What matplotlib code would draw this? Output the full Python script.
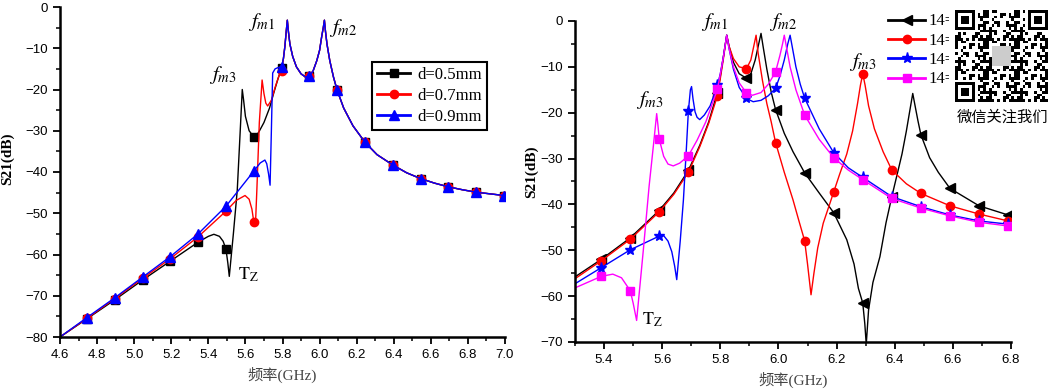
import numpy as np
import matplotlib
matplotlib.use('Agg')
import matplotlib.pyplot as plt
from matplotlib.ticker import MultipleLocator
from matplotlib.patches import Rectangle

plt.rcParams['font.family'] = ['Liberation Sans', 'Noto Sans CJK SC', 'DejaVu Sans']
plt.rcParams['mathtext.fontset'] = 'stix'

# ---------------- left panel: d = 0.5 / 0.7 / 0.9 mm ----------------
marks_L = [4.745, 4.895, 5.045, 5.195, 5.345, 5.495, 5.645, 5.795,
           5.945, 6.095, 6.245, 6.395, 6.545, 6.695, 6.845, 6.995]

f_d05 = [4.6, 4.745, 4.895, 5.045, 5.195, 5.345, 5.40, 5.43, 5.46, 5.48, 5.495,
         5.505, 5.513, 5.535, 5.556, 5.572, 5.583, 5.59, 5.60, 5.62, 5.645, 5.67,
         5.70, 5.73, 5.755, 5.775, 5.795]
s_d05 = [-80, -75.6, -71.0, -66.2, -61.6, -57.0, -55.6, -55.1, -55.6, -56.8, -58.7,
         -62.0, -65.3, -55.0, -44.4, -30.0, -20.0, -22.5, -26.5, -30.0, -31.5, -30.5,
         -28.0, -24.5, -20.5, -17.5, -14.8]

f_d07 = [4.6, 4.745, 4.895, 5.045, 5.195, 5.345, 5.495, 5.55, 5.598, 5.62, 5.635,
         5.645, 5.655, 5.662, 5.675, 5.69, 5.70, 5.71, 5.72, 5.74, 5.76, 5.78, 5.795]
s_d07 = [-80, -75.5, -70.7, -65.8, -61.0, -55.7, -49.5, -46.9, -45.7, -46.6, -49.0,
         -52.0, -51.8, -44.0, -28.0, -17.7, -21.0, -23.3, -24.0, -22.6, -19.5, -16.8, -15.5]

f_d09 = [4.6, 4.745, 4.895, 5.045, 5.195, 5.345, 5.495, 5.645, 5.68, 5.705, 5.715,
         5.725, 5.733, 5.74, 5.747, 5.76, 5.775, 5.795]
s_d09 = [-80, -75.3, -70.5, -65.5, -60.5, -55.0, -48.3, -39.8, -37.8, -37.1, -38.0,
         -40.5, -43.2, -30.0, -16.0, -15.0, -14.7, -14.5]

# common part above 5.8 GHz (the three curves overlap)
f_tail = [5.805, 5.813, 5.82, 5.826, 5.832, 5.84, 5.855, 5.875, 5.90, 5.925, 5.945,
          5.965, 5.985, 6.0, 6.012, 6.02, 6.026, 6.032, 6.04, 6.055, 6.075, 6.095,
          6.13, 6.18, 6.245, 6.31, 6.395, 6.47, 6.545, 6.62, 6.695, 6.77, 6.845,
          6.92, 6.995]
s_tail = [-12.5, -9.5, -6.0, -3.2, -6.0, -9.0, -12.0, -14.5, -16.2, -17.0, -16.8,
          -15.5, -13.0, -10.5, -7.0, -5.0, -3.2, -6.0, -9.0, -13.0, -17.0, -20.2,
          -24.5, -28.8, -32.8, -35.8, -38.3, -40.2, -41.6, -42.7, -43.6, -44.3, -44.9,
          -45.3, -45.7]

labels_L = ['d=0.5mm', 'd=0.7mm', 'd=0.9mm']

# ---------------- right panel: four cases ----------------
marks_R = [5.39, 5.49, 5.59, 5.69, 5.79, 5.89, 5.99, 6.09, 6.19, 6.29,
           6.39, 6.49, 6.59, 6.69, 6.79]

f_k = [5.30, 5.39, 5.49, 5.59, 5.64, 5.69, 5.73, 5.76, 5.79, 5.80, 5.81, 5.822, 5.83,
       5.845, 5.865, 5.89, 5.905, 5.92, 5.932, 5.94, 5.947, 5.96, 5.975, 5.99, 6.02,
       6.05, 6.09, 6.14, 6.19, 6.235, 6.26, 6.275, 6.29, 6.297, 6.302, 6.31, 6.325,
       6.349, 6.37, 6.39, 6.41, 6.425, 6.44, 6.452, 6.462, 6.47, 6.48, 6.49, 6.52,
       6.55, 6.59, 6.69, 6.79, 6.80]
s_k = [-55.8, -52.0, -47.3, -41.3, -37.5, -32.6, -27.0, -22.0, -15.6, -12.0, -8.0, -3.1,
       -5.5, -9.0, -11.5, -12.5, -11.5, -8.5, -5.0, -2.7, -5.5, -10.5, -15.5, -19.3,
       -24.5, -28.5, -33.1, -37.5, -41.8, -47.7, -53.0, -58.3, -61.5, -66.0, -70.5,
       -63.0, -57.0, -51.4, -44.0, -38.3, -33.0, -29.0, -24.0, -19.5, -15.8, -18.5,
       -21.8, -24.8, -29.8, -33.0, -36.5, -40.3, -42.3, -42.5]

f_r = [5.30, 5.39, 5.49, 5.59, 5.64, 5.69, 5.73, 5.76, 5.79, 5.80, 5.81, 5.822, 5.83,
       5.845, 5.865, 5.89, 5.905, 5.915, 5.923, 5.93, 5.945, 5.96, 5.975, 5.99, 6.02,
       6.05, 6.07, 6.09, 6.10, 6.112, 6.122, 6.135, 6.154, 6.19, 6.21, 6.235, 6.255,
       6.272, 6.282, 6.29, 6.298, 6.31, 6.33, 6.36, 6.39, 6.44, 6.49, 6.59, 6.69,
       6.79, 6.80]
s_r = [-56.2, -52.3, -47.6, -41.6, -37.8, -33.0, -27.3, -22.3, -16.3, -12.5, -8.5,
       -3.1, -5.5, -8.2, -10.0, -10.4, -8.5, -5.5, -3.1, -7.0, -13.0, -18.0, -22.0,
       -26.5, -33.0, -39.0, -43.5, -47.9, -53.0, -59.7, -55.0, -49.5, -44.1, -37.3,
       -33.5, -29.0, -24.0, -18.0, -14.0, -11.5, -14.0, -18.5, -23.5, -28.5, -32.5,
       -35.5, -37.6, -40.3, -42.1, -43.6, -43.8]

f_b = [5.30, 5.39, 5.49, 5.59, 5.605, 5.62, 5.633, 5.643, 5.65, 5.662, 5.673, 5.683,
       5.69, 5.697, 5.701, 5.706, 5.713, 5.72, 5.729, 5.745, 5.765, 5.79, 5.80, 5.81,
       5.822, 5.83, 5.845, 5.865, 5.89, 5.913, 5.94, 5.965, 5.99, 6.005, 6.02, 6.032,
       6.04, 6.047, 6.06, 6.075, 6.09, 6.14, 6.19, 6.24, 6.29, 6.39, 6.49, 6.59, 6.69,
       6.79, 6.80]
s_b = [-57.3, -53.8, -49.9, -46.9, -46.8, -48.0, -50.3, -53.5, -56.4, -48.0, -39.0,
       -28.0, -19.7, -15.0, -14.3, -17.0, -19.8, -21.0, -21.5, -20.5, -18.5, -14.0,
       -11.5, -8.0, -3.1, -6.0, -10.5, -14.5, -16.9, -17.6, -17.3, -16.3, -14.7, -12.0,
       -8.5, -5.0, -3.1, -5.5, -10.0, -13.8, -16.8, -23.5, -28.7, -32.0, -34.1, -38.3,
       -40.5, -42.3, -43.6, -44.3, -44.4]

f_m = [5.30, 5.39, 5.43, 5.46, 5.49, 5.50, 5.512, 5.535, 5.555, 5.57, 5.581, 5.585,
       5.59, 5.605, 5.62, 5.638, 5.66, 5.69, 5.72, 5.75, 5.79, 5.80, 5.81, 5.822, 5.83,
       5.845, 5.865, 5.89, 5.91, 5.94, 5.965, 5.99, 6.005, 6.014, 6.02, 6.027, 6.04,
       6.06, 6.09, 6.14, 6.19, 6.24, 6.29, 6.39, 6.49, 6.59, 6.69, 6.79, 6.80]
s_m = [-58.2, -55.7, -55.2, -56.0, -58.8, -61.5, -65.3, -50.0, -36.0, -27.0, -20.2,
       -22.5, -25.8, -29.5, -31.2, -31.6, -31.0, -29.4, -26.0, -22.0, -14.9, -11.5,
       -8.0, -3.1, -6.0, -10.0, -13.5, -15.7, -16.2, -15.6, -13.8, -11.1, -7.5, -5.0,
       -3.1, -5.5, -10.0, -15.0, -20.5, -25.8, -29.8, -32.5, -34.6, -38.7, -40.8,
       -42.5, -43.9, -44.7, -44.8]

labels_R = ['14=', '14=', '14=', '14=']


def mark_idx(f, marks):
    return [i for i, v in enumerate(f) if np.any(np.isclose(v, marks))]


def style_axes(ax):
    for side in ['top', 'right']:
        ax.spines[side].set_visible(False)
    for side in ['left', 'bottom']:
        ax.spines[side].set_linewidth(1.8)
    ax.tick_params(which='major', direction='out', length=5, width=1.3, labelsize=9.5)
    ax.tick_params(which='minor', direction='out', length=3, width=1.1)
    ax.set_ylabel('S21(dB)', family='Liberation Serif', fontweight='bold', fontsize=11)
    ax.set_xlabel('频率(GHz)', family=['Liberation Serif', 'Noto Sans CJK SC'],
                  fontsize=11, color='#444444')


fig = plt.figure(figsize=(10.57, 3.91), dpi=100)

# ---- left ----
axL = fig.add_axes([60/1057, 1-337/391, 445/1057, 330/391])
series_L = [
    (f_d05 + f_tail, s_d05 + s_tail, 'black', 's', 6),
    (f_d07 + f_tail, s_d07 + s_tail, 'red', 'o', 6),
    (f_d09 + f_tail, s_d09 + s_tail, 'blue', '^', 7),
]
for (f, s, c, mk, ms), lab in zip(series_L, labels_L):
    axL.plot(f, s, color=c, lw=1.0, marker=mk, ms=ms, markevery=mark_idx(f, marks_L),
             label=lab)
axL.set_xlim(4.6, 7.0)
axL.set_ylim(-80, 0)
axL.xaxis.set_major_locator(MultipleLocator(0.2))
axL.xaxis.set_minor_locator(MultipleLocator(0.1))
axL.yaxis.set_major_locator(MultipleLocator(10))
axL.yaxis.set_minor_locator(MultipleLocator(5))
axL.xaxis.set_major_formatter(matplotlib.ticker.FormatStrFormatter('%.1f'))
style_axes(axL)
axL.yaxis.set_label_coords(-0.103, 0.54)
legL = axL.legend(loc='upper left', bbox_to_anchor=(372/1057, 1-62/391),
                  bbox_transform=fig.transFigure, borderaxespad=0, fancybox=False,
                  edgecolor='black', framealpha=1, handlelength=2.0,
                  prop={'family': 'Liberation Serif', 'size': 12},
                  labelspacing=0.3, handletextpad=0.4, borderpad=0.3)
legL.get_frame().set_linewidth(1.5)
for ln in legL.get_lines():
    ln.set_linewidth(2)

tkw = dict(fontsize=15, ha='center', va='center')
axL.text(5.69, -3.6, r'$\mathit{f}_{\mathit{m1}}$', **tkw)
axL.text(6.127, -5.1, r'$\mathit{f}_{\mathit{m2}}$', **tkw)
axL.text(5.479, -16.5, r'$\mathit{f}_{\mathit{m3}}$', **tkw)
axL.text(5.614, -65, r'$\mathrm{T_Z}$', fontsize=13, ha='center', va='center')

# ---- right ----
axR = fig.add_axes([575/1057, 1-342/391, 436/1057, 321/391])
series_R = [
    (f_k, s_k, 'black', '<', 6.5),
    (f_r, s_r, 'red', 'o', 6),
    (f_b, s_b, 'blue', '*', 8),
    (f_m, s_m, 'magenta', 's', 5.5),
]
for (f, s, c, mk, ms), lab in zip(series_R, labels_R):
    axR.plot(f, s, color=c, lw=1.0, marker=mk, ms=ms, markevery=mark_idx(f, marks_R),
             label=lab)
axR.set_xlim(5.3, 6.8)
axR.set_ylim(-70, 0)
axR.xaxis.set_major_locator(MultipleLocator(0.2))
axR.xaxis.set_minor_locator(MultipleLocator(0.1))
axR.yaxis.set_major_locator(MultipleLocator(10))
axR.yaxis.set_minor_locator(MultipleLocator(5))
axR.xaxis.set_major_formatter(matplotlib.ticker.FormatStrFormatter('%.1f'))
style_axes(axR)
axR.yaxis.set_label_coords(-0.085, 0.53)
legR = axR.legend(loc='upper left', bbox_to_anchor=(885/1057, 1-10/391),
                  bbox_transform=fig.transFigure, borderaxespad=0, frameon=False,
                  handlelength=2.2, prop={'family': 'Liberation Serif', 'size': 12},
                  labelspacing=0.2, handletextpad=0.2, borderpad=0.2)
for ln in legR.get_lines():
    ln.set_linewidth(2)

axR.text(5.782, -0.3, r'$\mathit{f}_{\mathit{m1}}$', **tkw)
axR.text(6.016, -0.3, r'$\mathit{f}_{\mathit{m2}}$', **tkw)
axR.text(5.558, -17.3, r'$\mathit{f}_{\mathit{m3}}$', **tkw)
axR.text(6.291, -9.0, r'$\mathit{f}_{\mathit{m3}}$', **tkw)
axR.text(5.565, -65.2, r'$\mathrm{T_Z}$', fontsize=13, ha='center', va='center')

# ---- QR-code watermark box ----
fig.patches.append(Rectangle((949/1057, 1-130/391), 107/1057, 126/391,
                             transform=fig.transFigure, facecolor='white',
                             edgecolor='none', zorder=5))
n = 33
qr = np.zeros((n, n))
ii, jj = np.meshgrid(np.arange(n), np.arange(n), indexing='ij')
qr[((ii * ii * 3 + jj * jj * 5 + ii * jj * 7 + jj) % 11) < 5] = 1
for (r0, c0) in [(0, 0), (0, n - 7), (n - 7, 0)]:
    rs = slice(max(r0 - 1, 0), min(r0 + 8, n))
    cs = slice(max(c0 - 1, 0), min(c0 + 8, n))
    qr[rs, cs] = 0
    qr[r0:r0+7, c0:c0+7] = 1
    qr[r0+1:r0+6, c0+1:c0+6] = 0
    qr[r0+2:r0+5, c0+2:c0+5] = 1
qr[13:20, 13:20] = 0.2
axQ = fig.add_axes([955/1057, 1-102/391, 93/1057, 92/391], zorder=6)
axQ.imshow(qr, cmap='gray_r', vmin=0, vmax=1, interpolation='nearest', aspect='auto')
axQ.axis('off')
fig.text(1002/1057, 1-117/391, '微信关注我们', family=['Noto Sans CJK SC'],
         fontsize=11, ha='center', va='center', zorder=7)

fig.savefig('out.png', dpi=100)
